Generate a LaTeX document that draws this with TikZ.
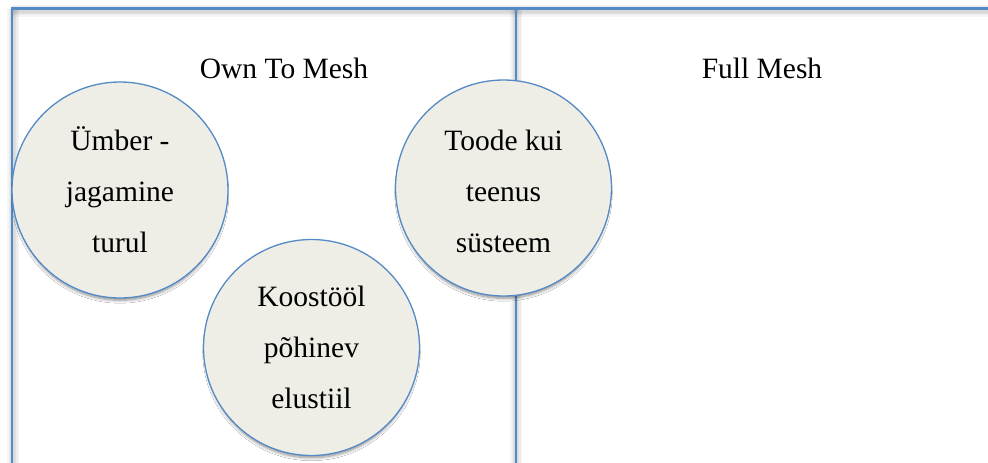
\documentclass[tikz,border=0pt]{standalone}
\usepackage{fontspec}
\setmainfont{Liberation Serif}
\usetikzlibrary{shadows.blur}
\definecolor{lineblue}{RGB}{84,138,198}
\definecolor{bubblefill}{RGB}{239,238,230}
\tikzset{
  frameline/.style={draw=lineblue, line width=2.2pt},
  frameshadow/.style={draw=black, line width=#1, opacity=0.04},
  bubble/.style={circle, draw=lineblue, line width=1.3pt, fill=bubblefill,
    minimum size=216pt, inner sep=0pt, align=center,
    font=\fontsize{29.5}{51}\selectfont,
    blur shadow={shadow xshift=0pt, shadow yshift=-4.5pt, shadow scale=0.98,
      shadow blur radius=3pt, shadow blur steps=8, shadow opacity=45}},
  heading/.style={font=\fontsize{29.5}{34}\selectfont, inner sep=0pt}
}
\begin{document}
\begin{tikzpicture}[x=1pt,y=-1pt]
\useasboundingbox (0,0) rectangle (988,463);
\fill[white] (0,0) rectangle (988,463);
\coordinate (tl) at (12,8.5);
\coordinate (tr) at (988,8.5);
\coordinate (bl) at (12,463);
\coordinate (tm) at (516,8.5);
\coordinate (bm) at (516,463);
% soft shadows of the frame lines
\foreach \w in {12pt,9pt,6pt,4pt}{
  \draw[frameshadow=\w] ([yshift=-2pt]tl) -- ([yshift=-2pt]tr);
  \draw[frameshadow=\w] ([xshift=1pt]tl) -- ([xshift=1pt]bl);
  \draw[frameshadow=\w] (tm) -- (bm);
}
\draw[frameline] (tr) -- (tl) -- (bl);
\draw[frameline] (tm) -- (bm);
% headings
\node[heading] (own) at (284,68) {Own To Mesh};
\node[heading] (full) at (762,68) {Full Mesh};
% bubbles
\node[bubble] (umber) at (120,190) {Ümber -\\jagamine\\turul};
\node[bubble] (toode) at (503.5,188) {\rule{0pt}{28pt}Toode kui\\teenus\\süsteem};
\node[bubble] (koos) at (311.5,347.5) {Koostööl\\põhinev\\elustiil};
\end{tikzpicture}
\end{document}
